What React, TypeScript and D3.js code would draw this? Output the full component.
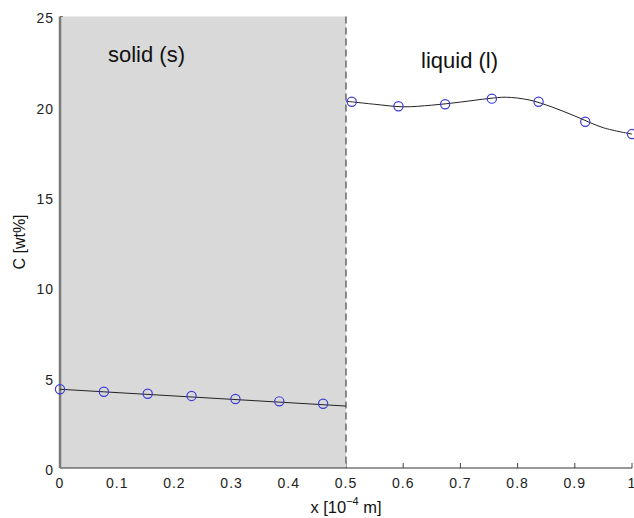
import React from "react";
import * as d3 from "d3";

// ---- data ----
const solidX = [0, 0.0767, 0.1533, 0.23, 0.3067, 0.3833, 0.46];
const solidC = [4.36, 4.22, 4.11, 3.99, 3.82, 3.69, 3.56];
const solidLineX = [0, 0.5];
const solidLineC = [4.36, 3.43];

const liquidX = [0.51, 0.5917, 0.6733, 0.755, 0.8367, 0.9183, 1.0];
const liquidC = [20.28, 20.03, 20.14, 20.45, 20.28, 19.17, 18.49];
const liquidLineX = [0.5, 0.55, 0.6, 0.65, 0.7, 0.75, 0.78, 0.82, 0.86, 0.9, 0.95, 1.0];
const liquidLineC = [20.31, 20.14, 20.0, 20.09, 20.26, 20.46, 20.53, 20.38, 19.99, 19.49, 18.84, 18.49];

const xTicks = [0, 0.1, 0.2, 0.3, 0.4, 0.5, 0.6, 0.7, 0.8, 0.9, 1];
const xTickLabels = ["0", "0.1", "0.2", "0.3", "0.4", "0.5", "0.6", "0.7", "0.8", "0.9", "1"];
const yTicks = [0, 5, 10, 15, 20, 25];
const yTickLabels = ["0", "5", "10", "15", "20", "25"];
const interfaceX = 0.5;

const W = 634;
const H = 518;
const FONT = "'Liberation Sans', Arial, Helvetica, sans-serif";

export default function App() {
  const x = d3.scaleLinear().domain([0, 1]).range([60, 632]);
  const y = d3.scaleLinear().domain([0, 25]).range([468, 16.5]);

  const solidLine = d3
    .line<number>()
    .x((_, i) => x(solidLineX[i]))
    .y((d) => y(d))(solidLineC) as string;

  const liquidLine = d3
    .line<number>()
    .x((_, i) => x(liquidLineX[i]))
    .y((d) => y(d))
    .curve(d3.curveCatmullRom.alpha(0.5))(liquidLineC) as string;

  const x0 = x(0);
  const xi = x(interfaceX);
  const yb = y(0);
  const yt = y(25);

  return (
    <svg
      width={W}
      height={H}
      style={{ position: "fixed", left: 0, top: 0, background: "#fff" }}
      fontFamily={FONT}
    >
      {/* x ticks (inside) */}
      {xTicks.map((t, i) => (
        <line key={"xt" + i} x1={x(t)} x2={x(t)} y1={yb} y2={yb - 5} stroke="#444" strokeWidth={1} />
      ))}
      {/* solid region */}
      <rect x={x0} y={yt} width={xi - x0} height={yb - yt} fill="#d9d9d9" />
      {/* interface dashed line */}
      <line x1={xi} x2={xi} y1={yt} y2={yb} stroke="#555" strokeWidth={1.3} strokeDasharray="7,4" />
      {/* axes */}
      <line x1={x0} x2={x(1)} y1={yb} y2={yb} stroke="#333" strokeWidth={1.2} />
      <line x1={x0} x2={x0} y1={yt} y2={yb} stroke="#7a7a7a" strokeWidth={2.5} />
      <line x1={x0} x2={x0 + 3} y1={yt} y2={yt} stroke="#7a7a7a" strokeWidth={1} />

      {/* curves */}
      <path d={solidLine} fill="none" stroke="#222" strokeWidth={1} />
      <path d={liquidLine} fill="none" stroke="#222" strokeWidth={1} />

      {/* markers */}
      {solidX.map((v, i) => (
        <circle key={"s" + i} cx={x(v)} cy={y(solidC[i])} r={4.6} fill="none" stroke="#3b3bd6" strokeWidth={1.2} />
      ))}
      {liquidX.map((v, i) => (
        <circle key={"l" + i} cx={x(v)} cy={y(liquidC[i])} r={4.6} fill="none" stroke="#3b3bd6" strokeWidth={1.2} />
      ))}

      {/* tick labels */}
      {yTicks.map((t, i) => (
        <text key={"yl" + i} x={54} y={y(t) + 6.8} textAnchor="end" fontSize={14} letterSpacing={1} fill="#222">
          {yTickLabels[i]}
        </text>
      ))}
      {xTicks.map((t, i) => (
        <text key={"xl" + i} x={x(t)} y={yb + 20} textAnchor="middle" fontSize={14} letterSpacing={1} fill="#222">
          {xTickLabels[i]}
        </text>
      ))}

      {/* region labels */}
      <text x={108} y={62} fontSize={22} fill="#111">solid (s)</text>
      <text x={421} y={68} fontSize={22} fill="#111">liquid (l)</text>

      {/* axis labels */}
      <text x={346} y={512.5} textAnchor="middle" fontSize={16.5} fill="#111">
        x [10<tspan dy={-8} fontSize={11}>−4</tspan>
        <tspan dy={8}> m]</tspan>
      </text>
      <text transform={`translate(25,242) rotate(-90)`} textAnchor="middle" fontSize={16} fill="#111">
        C [wt%]
      </text>
    </svg>
  );
}
